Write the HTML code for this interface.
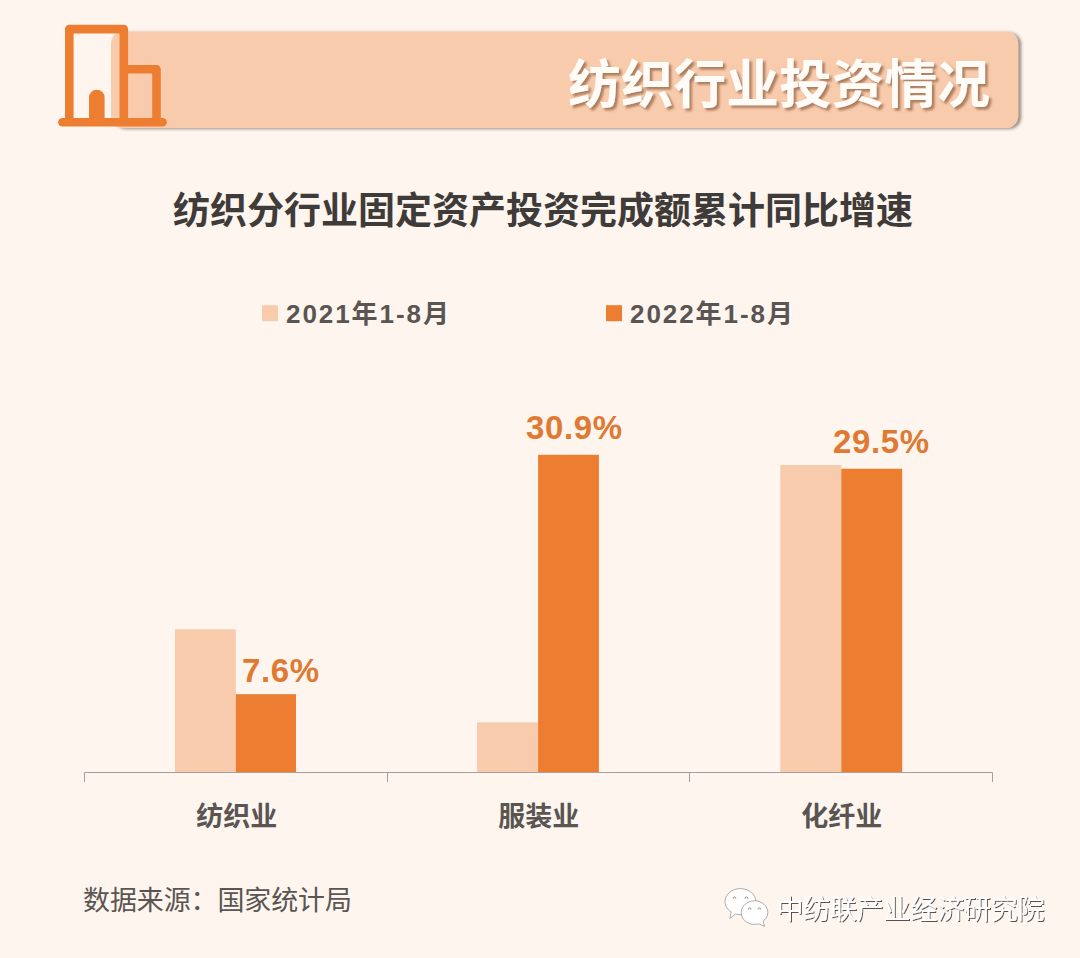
<!DOCTYPE html>
<html lang="zh-CN">
<head>
<meta charset="utf-8">
<title>纺织行业投资情况</title>
<style>
html,body{margin:0;padding:0;background:#FDF5EE;}
body{width:1080px;height:958px;overflow:hidden;font-family:"Liberation Sans",sans-serif;}
svg{display:block;position:absolute;left:0;top:0;}
svg text{font-family:"Liberation Sans","Noto Sans CJK SC",sans-serif;}
.sr{position:absolute;left:0;top:0;width:1px;height:1px;margin:0;padding:0;overflow:hidden;clip:rect(0 0 0 0);clip-path:inset(50%);white-space:nowrap;opacity:0;}
</style>
</head>
<body>
<div class="sr">
<h1>纺织行业投资情况</h1>
<h2>纺织分行业固定资产投资完成额累计同比增速</h2>
<ul><li>2021年1-8月</li><li>2022年1-8月</li></ul>
<ul><li>纺织业 7.6%</li><li>服装业 30.9%</li><li>化纤业 29.5%</li></ul>
<p>数据来源：国家统计局</p>
<p>中纺联产业经济研究院</p>
</div>
<svg width="1080" height="958" viewBox="0 0 1080 958" role="img" aria-label="纺织分行业固定资产投资完成额累计同比增速">
<defs>
<filter id="bsh" x="-5%" y="-20%" width="110%" height="140%"><feDropShadow dx="3" dy="1" stdDeviation="1.5" flood-color="#3a2c24" flood-opacity="0.5"/></filter>
<filter id="tsh" x="-5%" y="-20%" width="110%" height="140%"><feDropShadow dx="2.6" dy="2.6" stdDeviation="1.1" flood-color="#7a4a28" flood-opacity="0.6"/></filter>
<filter id="wsh" x="-5%" y="-20%" width="110%" height="140%"><feDropShadow dx="1" dy="1" stdDeviation="0.3" flood-color="#1a1614" flood-opacity="0.72"/></filter>
</defs>
<rect width="1080" height="958" fill="#FDF5EE"/>
<rect x="111" y="31.5" width="907.2" height="96.6" rx="12" fill="#F8CBAD" filter="url(#bsh)"/>
<g fill="none" stroke="#ED7D31" stroke-width="8.6" stroke-linejoin="round">
<path d="M69.3 122.3V29.1H123.8V122.3"/>
<path d="M126 69.3H156.5V122.3"/>
<path stroke-linecap="round" d="M62.4 122.3H162.6"/>
</g>
<path fill="#ED7D31" d="M89 122V97.600a7.800 7.800 0 0 1 15.600 0V122z"/>
<text x="568" y="103" font-size="52.7" font-weight="bold" fill="#FFFBF6" filter="url(#tsh)" textLength="422" lengthAdjust="spacing">纺织行业投资情况</text>
<text x="173" y="224" font-size="37" font-weight="bold" fill="#3F3B39" textLength="740" lengthAdjust="spacing">纺织分行业固定资产投资完成额累计同比增速</text>
<rect x="262" y="305.2" width="16" height="16" fill="#F8CBAD"/>
<text x="286" y="323" font-size="26" font-weight="bold" fill="#5A5553" textLength="163" lengthAdjust="spacing">2021年1-8月</text>
<rect x="606" y="305.2" width="16" height="16" fill="#ED7D31"/>
<text x="630" y="323" font-size="26" font-weight="bold" fill="#5A5553" textLength="163" lengthAdjust="spacing">2022年1-8月</text>
<rect x="175" y="629.3" width="60.8" height="142.7" fill="#F8CBAD"/>
<rect x="235.8" y="694.2" width="60.2" height="77.8" fill="#ED7D31"/>
<rect x="477" y="722.4" width="61.1" height="49.6" fill="#F8CBAD"/>
<rect x="538.1" y="454.8" width="60.8" height="317.2" fill="#ED7D31"/>
<rect x="780.3" y="465" width="61" height="307" fill="#F8CBAD"/>
<rect x="841.3" y="468.700" width="60.9" height="303.3" fill="#ED7D31"/>
<path fill="none" stroke="#A69E9A" stroke-width="1" d="M84.500 782V772.500H992.500V782M387.500 772.500V782M689.500 772.500V782"/>
<text x="242" y="681.8" font-size="33" font-weight="bold" fill="#E07A33" textLength="77" lengthAdjust="spacing">7.6%</text>
<text x="526" y="438.9" font-size="33" font-weight="bold" fill="#E07A33" textLength="96" lengthAdjust="spacing">30.9%</text>
<text x="833" y="453.3" font-size="33" font-weight="bold" fill="#E07A33" textLength="96" lengthAdjust="spacing">29.5%</text>
<text x="236.700" y="825.500" font-size="27" font-weight="bold" fill="#5A5553" text-anchor="middle">纺织业</text>
<text x="538.700" y="825.500" font-size="27" font-weight="bold" fill="#5A5553" text-anchor="middle">服装业</text>
<text x="841.700" y="825.500" font-size="27" font-weight="bold" fill="#5A5553" text-anchor="middle">化纤业</text>
<text x="83" y="909.5" font-size="27" fill="#5A5553" textLength="269" lengthAdjust="spacing">数据来源：国家统计局</text>
<g filter="url(#wsh)">
<text x="776.500" y="919" font-size="27" fill="#FFFFFF" textLength="268" lengthAdjust="spacing">中纺联产业经济研究院</text>
</g>
<g fill="#FFFFFF" stroke="#5f5a56" stroke-opacity="0.6" stroke-width="0.8" stroke-linejoin="round">
<path d="M740.4 888.6c-8.5 0-15.400 5.800-15.400 13 0 4.200 2.400 7.900 6.100 10.300l-1.200 6.500 5.700-4.400c1.500 0.400 3.100 0.600 4.800 0.600 8.500 0 15.400-5.800 15.400-13s-6.900-13-15.400-13z"/>
<path d="M754.5 900.8c-7.400 0-13.300 5.300-13.300 11.800s5.900 11.800 13.300 11.800c1.500 0 3-0.200 4.300-0.600l5.800 2.600-1.500-5.200c2.900-2.200 4.700-5.200 4.700-8.600 0-6.500-5.900-11.800-13.300-11.800z"/>
</g>
<g fill="none" stroke="#8d8883" stroke-width="0.9" stroke-linecap="round"><path d="M733.1 898.300a1.400 1.400 0 0 1 2.800 0M745 898.300a1.400 1.400 0 0 1 2.800 0M748.500 909.200a1.300 1.300 0 0 1 2.600 0M758.100 909.200a1.300 1.300 0 0 1 2.600 0"/></g>
</svg>
</body>
</html>
